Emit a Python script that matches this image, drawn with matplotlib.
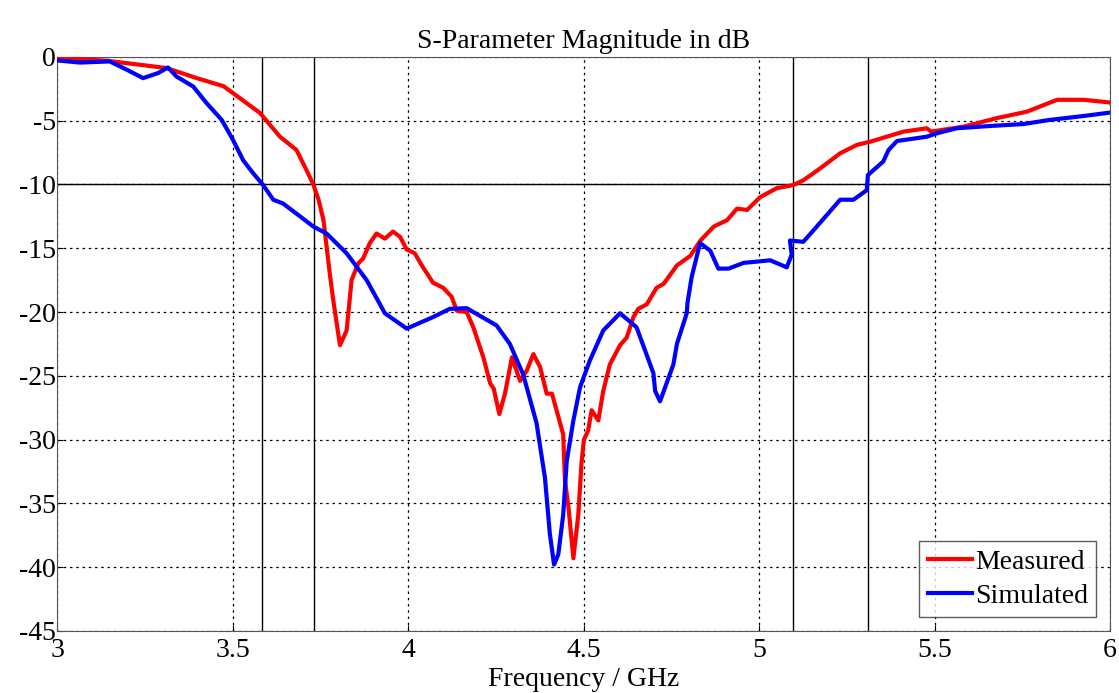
import numpy as np
import matplotlib.pyplot as plt

# Measured S11
f_meas = [3.0, 3.14, 3.312, 3.398, 3.474, 3.521, 3.578, 3.635, 3.682, 3.711, 3.73, 3.745,
          3.759, 3.777, 3.787, 3.806, 3.825, 3.839, 3.858, 3.872, 3.891, 3.910, 3.934, 3.957,
          3.977, 3.996, 4.019, 4.038, 4.071, 4.10, 4.124, 4.139, 4.167, 4.186, 4.215, 4.234,
          4.244, 4.26, 4.276, 4.296, 4.319, 4.338, 4.357, 4.376, 4.395, 4.41, 4.442, 4.447,
          4.457, 4.471, 4.485, 4.494, 4.501, 4.513, 4.523, 4.542, 4.556, 4.575, 4.604, 4.623,
          4.642, 4.656, 4.680, 4.708, 4.728, 4.766, 4.804, 4.833, 4.871, 4.909, 4.937, 4.966,
          5.003, 5.05, 5.098, 5.127, 5.174, 5.231, 5.279, 5.317, 5.412, 5.478, 5.49, 5.583,
          5.678, 5.763, 5.849, 5.925, 6.0]
s_meas = [-0.1, -0.3, -0.88, -1.67, -2.3, -3.24, -4.4, -6.26, -7.3, -8.9, -10.0, -11.2,
          -12.8, -17.0, -19.1, -22.6, -21.45, -17.5, -16.2, -15.8, -14.6, -13.85, -14.25, -13.7,
          -14.1, -15.1, -15.4, -16.3, -17.7, -18.1, -18.8, -19.9, -20.0, -21.2, -23.6, -25.6,
          -26.0, -28.0, -26.4, -23.55, -25.4, -24.6, -23.3, -24.3, -26.4, -26.4, -29.6, -33.2,
          -35.3, -39.3, -35.9, -31.9, -30.0, -29.3, -27.7, -28.5, -26.2, -24.1, -22.6, -22.0,
          -20.4, -19.75, -19.4, -18.1, -17.8, -16.35, -15.6, -14.4, -13.3, -12.8, -11.9, -12.0,
          -11.0, -10.3, -10.05, -9.66, -8.75, -7.56, -6.9, -6.65, -5.86, -5.6, -5.86, -5.47,
          -4.8, -4.3, -3.37, -3.37, -3.58]

# Simulated S11
f_sim = [3.0, 3.065, 3.15, 3.198, 3.245, 3.288, 3.316, 3.340, 3.388, 3.426, 3.469, 3.501,
         3.530, 3.558, 3.587, 3.616, 3.644, 3.692, 3.730, 3.768, 3.825, 3.882, 3.934, 3.996,
         4.071, 4.119, 4.167, 4.252, 4.290, 4.328, 4.366, 4.39, 4.404, 4.416, 4.428, 4.442,
         4.452, 4.471, 4.49, 4.518, 4.556, 4.604, 4.651, 4.699, 4.704, 4.718, 4.756, 4.766,
         4.794, 4.796, 4.808, 4.832, 4.861, 4.884, 4.913, 4.956, 5.032, 5.079, 5.093, 5.088,
         5.126, 5.155, 5.231, 5.269, 5.307, 5.31, 5.354, 5.369, 5.393, 5.478, 5.506, 5.563,
         5.658, 5.753, 5.829, 5.924, 6.0]
s_sim = [-0.28, -0.45, -0.36, -1.0, -1.67, -1.27, -0.83, -1.54, -2.33, -3.63, -4.94, -6.5,
         -8.1, -9.1, -10.05, -11.2, -11.5, -12.5, -13.3, -13.85, -15.4, -17.5, -20.1, -21.3,
         -20.4, -19.75, -19.7, -21.05, -22.5, -24.9, -28.7, -33.0, -37.4, -39.8, -39.0, -35.9,
         -31.7, -28.5, -25.9, -23.8, -21.45, -20.1, -21.2, -24.8, -26.2, -27.0, -24.1, -22.5,
         -20.1, -19.3, -17.25, -14.6, -15.2, -16.6, -16.6, -16.15, -15.95, -16.5, -15.5, -14.4,
         -14.5, -13.6, -11.2, -11.2, -10.45, -9.27, -8.2, -7.3, -6.6, -6.26, -6.0, -5.6,
         -5.42, -5.27, -4.94, -4.64, -4.37]

# marker lines
x_marks = [3.584, 3.732, 5.098, 5.31]
y_mark = -10

xticks = [3, 3.5, 4, 4.5, 5, 5.5, 6]
xticklabels = ["3", "3.5", "4", "4.5", "5", "5.5", "6"]
yticks = np.arange(-45, 1, 5)

plt.rcParams["font.family"] = ["Liberation Serif", "DejaVu Serif"]
plt.rcParams["axes.unicode_minus"] = False

fig = plt.figure(figsize=(11.19, 6.93), dpi=100)
ax = fig.add_axes([0.051, 0.0895, 0.941, 0.8285])

ax.grid(True, color="black", linestyle=(0, (2, 3)), linewidth=0.9)
for xm in x_marks:
    ax.axvline(xm, color="black", linewidth=1.0, zorder=1.5)
ax.axhline(y_mark, color="black", linewidth=1.0, zorder=1.5)

ax.plot(f_meas, s_meas, color="#ff0000", linewidth=3, label="Measured", zorder=3)
ax.plot(f_sim, s_sim, color="#0000ff", linewidth=3, label="Simulated", zorder=3)

ax.set_xlim(3, 6)
ax.set_ylim(-45, 0)
ax.set_xticks(xticks)
ax.set_xticklabels(xticklabels)
ax.set_yticks(yticks)
ax.tick_params(direction="in", length=4, labelsize=20)
ax.tick_params(axis="y", pad=1)
ax.tick_params(axis="x", pad=5)
for sp in ax.spines.values():
    sp.set_color("#555555")

ax.set_title("S-Parameter Magnitude in dB", fontsize=20, pad=6)
ax.set_xlabel("Frequency / GHz", fontsize=20, labelpad=3)

leg = ax.legend(loc="lower right", fontsize=20, frameon=True, fancybox=False,
                handlelength=1.6, handletextpad=0.1, borderpad=0.3, labelspacing=0.3,
                borderaxespad=0.5)
leg.get_frame().set_edgecolor("#333333")
leg.get_frame().set_linewidth(1.0)

fig.savefig("out.png", dpi=100)
